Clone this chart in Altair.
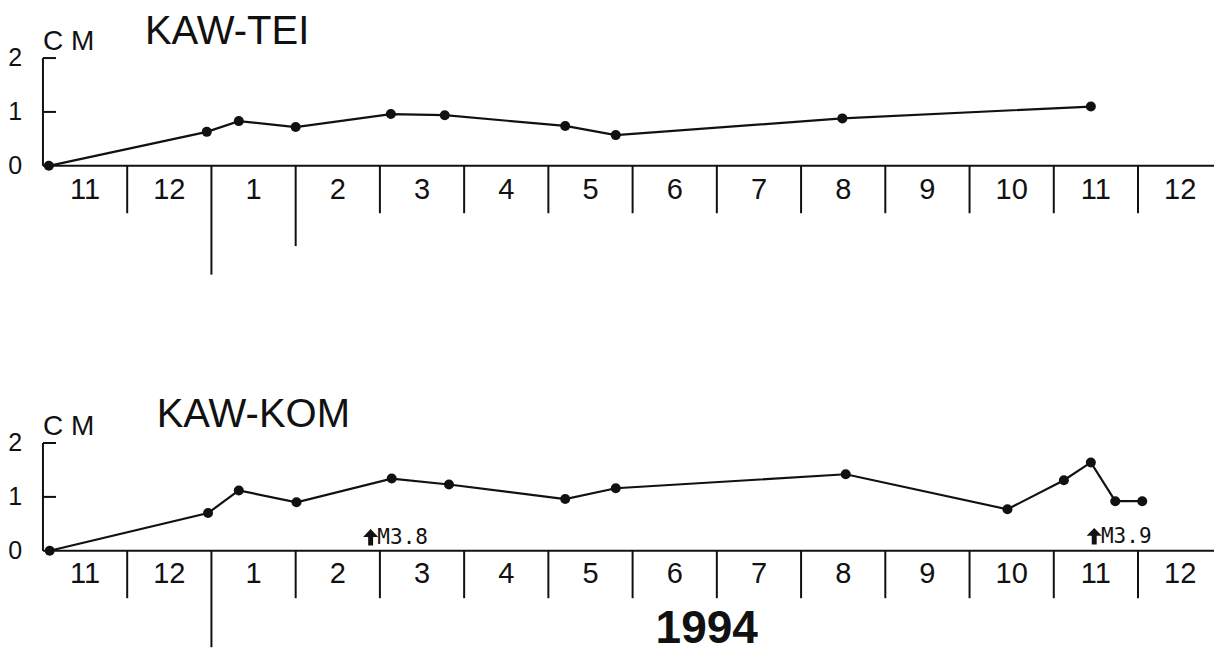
import altair as alt
import pandas as pd

# ---------------- data ----------------
# x values: months elapsed since 1 Nov 1993 (0 = start of Nov 1993)
stations = ["KAW-TEI", "KAW-KOM"]
tei_month = [0.07, 1.945, 2.325, 3.00, 4.13, 4.77, 6.20, 6.80, 9.49, 12.44]
tei_cm = [0.0, 0.63, 0.83, 0.72, 0.96, 0.94, 0.74, 0.57, 0.88, 1.10]
kom_month = [0.08, 1.96, 2.325, 3.01, 4.14, 4.82, 6.20, 6.80, 9.53, 11.45,
             12.12, 12.44, 12.73, 13.05]
kom_cm = [0.0, 0.70, 1.12, 0.90, 1.34, 1.23, 0.96, 1.16, 1.42, 0.77,
          1.31, 1.64, 0.92, 0.92]
month_labels = ["11", "12", "1", "2", "3", "4", "5", "6", "7", "8", "9",
                "10", "11", "12"]
month_bounds = list(range(1, 14))
y_ticks = [0, 1, 2]
unit_label = "C M"
year_label = "1994"
quake_labels = ["M3.8", "M3.9"]
quake_month = [3.89, 12.48]

# ---------------- layout ----------------
X_DOM = [-0.415, 13.902]
Y_DOM = [-1.786, 10.074]
OFF = {"KAW-TEI": 7.145, "KAW-KOM": 0.0}
TICK_LEN = 0.88
LONG = {("KAW-TEI", 2): 2.02, ("KAW-TEI", 3): 1.49, ("KAW-KOM", 2): 1.79}
xs = alt.Scale(domain=X_DOM, nice=False, zero=False)
ys = alt.Scale(domain=Y_DOM, nice=False, zero=False)
FONT = "Liberation Sans"
BLACK = "#111111"


def X(f="m"):
    return alt.X(f"{f}:Q", scale=xs, axis=None)


def Y(f="y"):
    return alt.Y(f"{f}:Q", scale=ys, axis=None)


# series table
rows = []
for st, ms, vs in [("KAW-TEI", tei_month, tei_cm), ("KAW-KOM", kom_month, kom_cm)]:
    for m, v in zip(ms, vs):
        rows.append({"station": st, "m": m, "cm": v, "y": v + OFF[st]})
series = pd.DataFrame(rows)

axes_rows, tick_rows, mlab_rows, ylab_rows, ytick_rows = [], [], [], [], []
for st in stations:
    o = OFF[st]
    axes_rows.append({"m": 0.0, "m2": X_DOM[1], "y": o, "y2": o})
    axes_rows.append({"m": 0.0, "m2": 0.0, "y": o, "y2": o + 2})
    for b in month_bounds:
        L = LONG.get((st, b), TICK_LEN)
        tick_rows.append({"m": b, "y": o, "y2": o - L})
    for i, lab in enumerate(month_labels):
        mlab_rows.append({"m": i + 0.5, "y": o - 0.44, "label": lab})
    for t in y_ticks:
        ylab_rows.append({"m": -0.33, "y": o + t, "label": str(t)})
        if t > 0:
            ytick_rows.append({"m": 0.0, "m2": 0.155, "y": o + t})

axes_df = pd.DataFrame(axes_rows)
ticks_df = pd.DataFrame(tick_rows)
mlab_df = pd.DataFrame(mlab_rows)
ylab_df = pd.DataFrame(ylab_rows)
ytick_df = pd.DataFrame(ytick_rows)

axis_lines = alt.Chart(axes_df).mark_rule(color=BLACK, strokeWidth=2).encode(
    x=X(), x2="m2:Q", y=Y(), y2="y2:Q")
tick_lines = alt.Chart(ticks_df).mark_rule(color=BLACK, strokeWidth=2).encode(
    x=X(), y=Y(), y2="y2:Q")
ytick_lines = alt.Chart(ytick_df).mark_rule(color=BLACK, strokeWidth=2).encode(
    x=X(), x2="m2:Q", y=Y())
month_text = alt.Chart(mlab_df).mark_text(
    font=FONT, fontSize=29, color=BLACK, align="center", baseline="middle").encode(
    x=X(), y=Y(), text="label:N")
ylab_text = alt.Chart(ylab_df).mark_text(
    font=FONT, fontSize=25, color=BLACK, align="center", baseline="middle").encode(
    x=X(), y=Y(), text="label:N")

unit_df = pd.DataFrame([{"m": 0.0, "y": OFF[s] + 2.155, "label": unit_label} for s in stations])
unit_text = alt.Chart(unit_df).mark_text(
    font=FONT, fontSize=28, color=BLACK, align="left", baseline="alphabetic").encode(
    x=X(), y=Y(), text="label:N")

title_df = pd.DataFrame([
    {"m": 1.21, "y": OFF["KAW-TEI"] + 2.27, "label": stations[0]},
    {"m": 1.35, "y": OFF["KAW-KOM"] + 2.30, "label": stations[1]},
])
title_text = alt.Chart(title_df).mark_text(
    font=FONT, fontSize=40, color=BLACK, align="left", baseline="alphabetic").encode(
    x=X(), y=Y(), text="label:N")

line = alt.Chart(series).mark_line(color=BLACK, strokeWidth=2.2).encode(
    x=X(), y=Y(), detail="station:N", order="m:Q")
pts = alt.Chart(series).mark_circle(color=BLACK, opacity=1, size=100).encode(
    x=X(), y=Y())

ARROW = "M0,-1L0.92,-0.05L0.3,-0.05L0.3,1L-0.3,1L-0.3,-0.05L-0.92,-0.05Z"
quake_df = pd.DataFrame({"m": quake_month, "y": [0.25, 0.27], "label": quake_labels,
                         "ty": [0.13, 0.15]})
quake_df["tm"] = quake_df["m"] + 0.08
arrows = alt.Chart(quake_df).mark_point(
    shape=ARROW, filled=True, color=BLACK, opacity=1, size=270, strokeWidth=0).encode(
    x=X(), y=Y())
quake_text = alt.Chart(quake_df).mark_text(
    font="DejaVu Sans Mono", fontSize=21, color=BLACK, align="left",
    baseline="alphabetic").encode(x=X("tm"), y=Y("ty"), text="label:N")

year_df = pd.DataFrame([{"m": 7.88, "y": -1.71, "label": year_label}])
year_text = alt.Chart(year_df).mark_text(
    font=FONT, fontSize=46, fontWeight="bold", color=BLACK, align="center",
    baseline="alphabetic").encode(x=X(), y=Y(), text="label:N")

chart = alt.layer(
    axis_lines, tick_lines, ytick_lines, month_text, ylab_text, unit_text,
    title_text, line, pts, arrows, quake_text, year_text
).properties(
    width=1207, height=644, padding=0, background="white",
    autosize=alt.AutoSizeParams(type="fit", contains="padding"),
).configure_view(stroke=None)

chart.save("out.html", embed_options={"renderer": "svg", "actions": False})
